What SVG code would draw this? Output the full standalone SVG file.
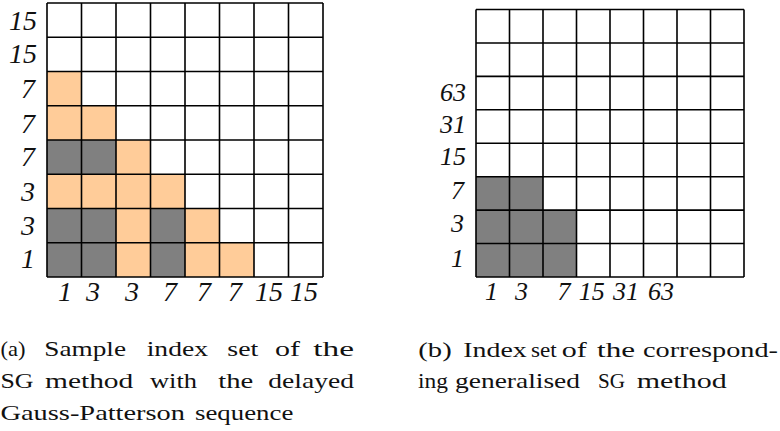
<svg xmlns="http://www.w3.org/2000/svg" width="780" height="431" viewBox="0 0 780 431">
<style>
.bg{fill:#ffffff}
.g{fill:#808080}
.o{fill:#ffcc99}
.grid{fill:none;stroke:#000;stroke-width:1.6}
.lab,.labr,.cap{font-family:"Liberation Serif","DejaVu Serif","Noto Serif",serif;fill:#111}
.lab{font-style:italic;font-size:28px}
.labr{font-style:italic;font-size:26px}
.cap{font-size:22px}
</style>
<rect class="bg" x="0" y="0" width="780" height="431"/>
<g id="panel-a">
  <g id="grid-a-cells">
    <rect class="o" x="47" y="71.5" width="34.5" height="34.25"/>
    <rect class="o" x="47" y="105.75" width="69" height="34.25"/>
    <rect class="g" x="47" y="140" width="69" height="34.25"/>
    <rect class="o" x="116" y="140" width="34.5" height="34.25"/>
    <rect class="o" x="47" y="174.25" width="138" height="34.25"/>
    <rect class="g" x="47" y="208.5" width="69" height="68.5"/>
    <rect class="o" x="116" y="208.5" width="34.5" height="68.5"/>
    <rect class="g" x="150.5" y="208.5" width="34.5" height="68.5"/>
    <rect class="o" x="185" y="208.5" width="34.5" height="68.5"/>
    <rect class="o" x="219.5" y="242.75" width="34.5" height="34.25"/>
  </g>
  <path class="grid" d="M47 3V277M81.5 3V277M116 3V277M150.5 3V277M185 3V277M219.5 3V277M254 3V277M288.5 3V277M323 3V277M47 3H323M47 37.25H323M47 71.5H323M47 105.75H323M47 140H323M47 174.25H323M47 208.5H323M47 242.75H323M47 277H323"/>
  <g id="rows-a" text-anchor="end">
    <text class="lab" x="37" y="30">15</text>
    <text class="lab" x="37" y="63">15</text>
    <text class="lab" x="35" y="98">7</text>
    <text class="lab" x="35" y="133">7</text>
    <text class="lab" x="35" y="166">7</text>
    <text class="lab" x="35" y="201">3</text>
    <text class="lab" x="35" y="235">3</text>
    <text class="lab" x="35" y="268">1</text>
  </g>
  <g id="cols-a" text-anchor="middle">
    <text class="lab" x="65" y="301">1</text>
    <text class="lab" x="93" y="301">3</text>
    <text class="lab" x="132" y="301">3</text>
    <text class="lab" x="170" y="301">7</text>
    <text class="lab" x="204" y="301">7</text>
    <text class="lab" x="235" y="301">7</text>
    <text class="lab" x="269" y="301">15</text>
    <text class="lab" x="304" y="301">15</text>
  </g>
  <g id="caption-a" class="cap">
    <text x="0.5" y="356" textLength="25" lengthAdjust="spacingAndGlyphs">(a)</text>
    <text x="44.3" y="356" textLength="81.7" lengthAdjust="spacingAndGlyphs">Sample</text>
    <text x="146.7" y="356" textLength="61.3" lengthAdjust="spacingAndGlyphs">index</text>
    <text x="227.3" y="356" textLength="31" lengthAdjust="spacingAndGlyphs">set</text>
    <text x="275" y="356" textLength="25" lengthAdjust="spacingAndGlyphs">of</text>
    <text x="313.3" y="356" textLength="40.7" lengthAdjust="spacingAndGlyphs">the</text>
    <text x="0.5" y="388" textLength="33" lengthAdjust="spacingAndGlyphs">SG</text>
    <text x="45" y="388" textLength="88.3" lengthAdjust="spacingAndGlyphs">method</text>
    <text x="150" y="388" textLength="47" lengthAdjust="spacingAndGlyphs">with</text>
    <text x="218.3" y="388" textLength="35" lengthAdjust="spacingAndGlyphs">the</text>
    <text x="268.3" y="388" textLength="85.7" lengthAdjust="spacingAndGlyphs">delayed</text>
    <text x="0.5" y="420" textLength="184.5" lengthAdjust="spacingAndGlyphs">Gauss-Patterson</text>
    <text x="195" y="420" textLength="98.3" lengthAdjust="spacingAndGlyphs">sequence</text>
  </g>
</g>
<g id="panel-b">
  <g id="grid-b-cells">
    <rect class="g" x="476" y="176.69" width="67" height="33.44"/>
    <rect class="g" x="476" y="210.13" width="100.5" height="66.87"/>
  </g>
  <path class="grid" d="M476 9.5V277M509.5 9.5V277M543 9.5V277M576.5 9.5V277M610 9.5V277M643.5 9.5V277M677 9.5V277M710.5 9.5V277M744 9.5V277M476 9.5H744M476 42.94H744M476 76.38H744M476 109.81H744M476 143.25H744M476 176.69H744M476 210.13H744M476 243.56H744M476 277H744"/>
  <g id="rows-b" text-anchor="end">
    <text class="labr" x="466" y="101">63</text>
    <text class="labr" x="466" y="133">31</text>
    <text class="labr" x="466" y="165">15</text>
    <text class="labr" x="464" y="199">7</text>
    <text class="labr" x="464" y="232">3</text>
    <text class="labr" x="464" y="267">1</text>
  </g>
  <g id="cols-b" text-anchor="middle">
    <text class="labr" x="491.5" y="300">1</text>
    <text class="labr" x="521.5" y="300">3</text>
    <text class="labr" x="564" y="300">7</text>
    <text class="labr" x="591.7" y="300">15</text>
    <text class="labr" x="626" y="300">31</text>
    <text class="labr" x="661" y="300">63</text>
  </g>
  <g id="caption-b" class="cap">
    <text x="418.3" y="357" textLength="33.4" lengthAdjust="spacingAndGlyphs">(b)</text>
    <text x="463.3" y="357" textLength="63.4" lengthAdjust="spacingAndGlyphs">Index</text>
    <text x="531" y="357" textLength="25.7" lengthAdjust="spacingAndGlyphs">set</text>
    <text x="561.7" y="357" textLength="25" lengthAdjust="spacingAndGlyphs">of</text>
    <text x="597" y="357" textLength="38" lengthAdjust="spacingAndGlyphs">the</text>
    <text x="643" y="357" textLength="135" lengthAdjust="spacingAndGlyphs">correspond-</text>
    <text x="418" y="387.5" textLength="30" lengthAdjust="spacingAndGlyphs">ing</text>
    <text x="455" y="387.5" textLength="125" lengthAdjust="spacingAndGlyphs">generalised</text>
    <text x="598" y="387.5" textLength="27" lengthAdjust="spacingAndGlyphs">SG</text>
    <text x="636.7" y="387.5" textLength="90" lengthAdjust="spacingAndGlyphs">method</text>
  </g>
</g>
</svg>
